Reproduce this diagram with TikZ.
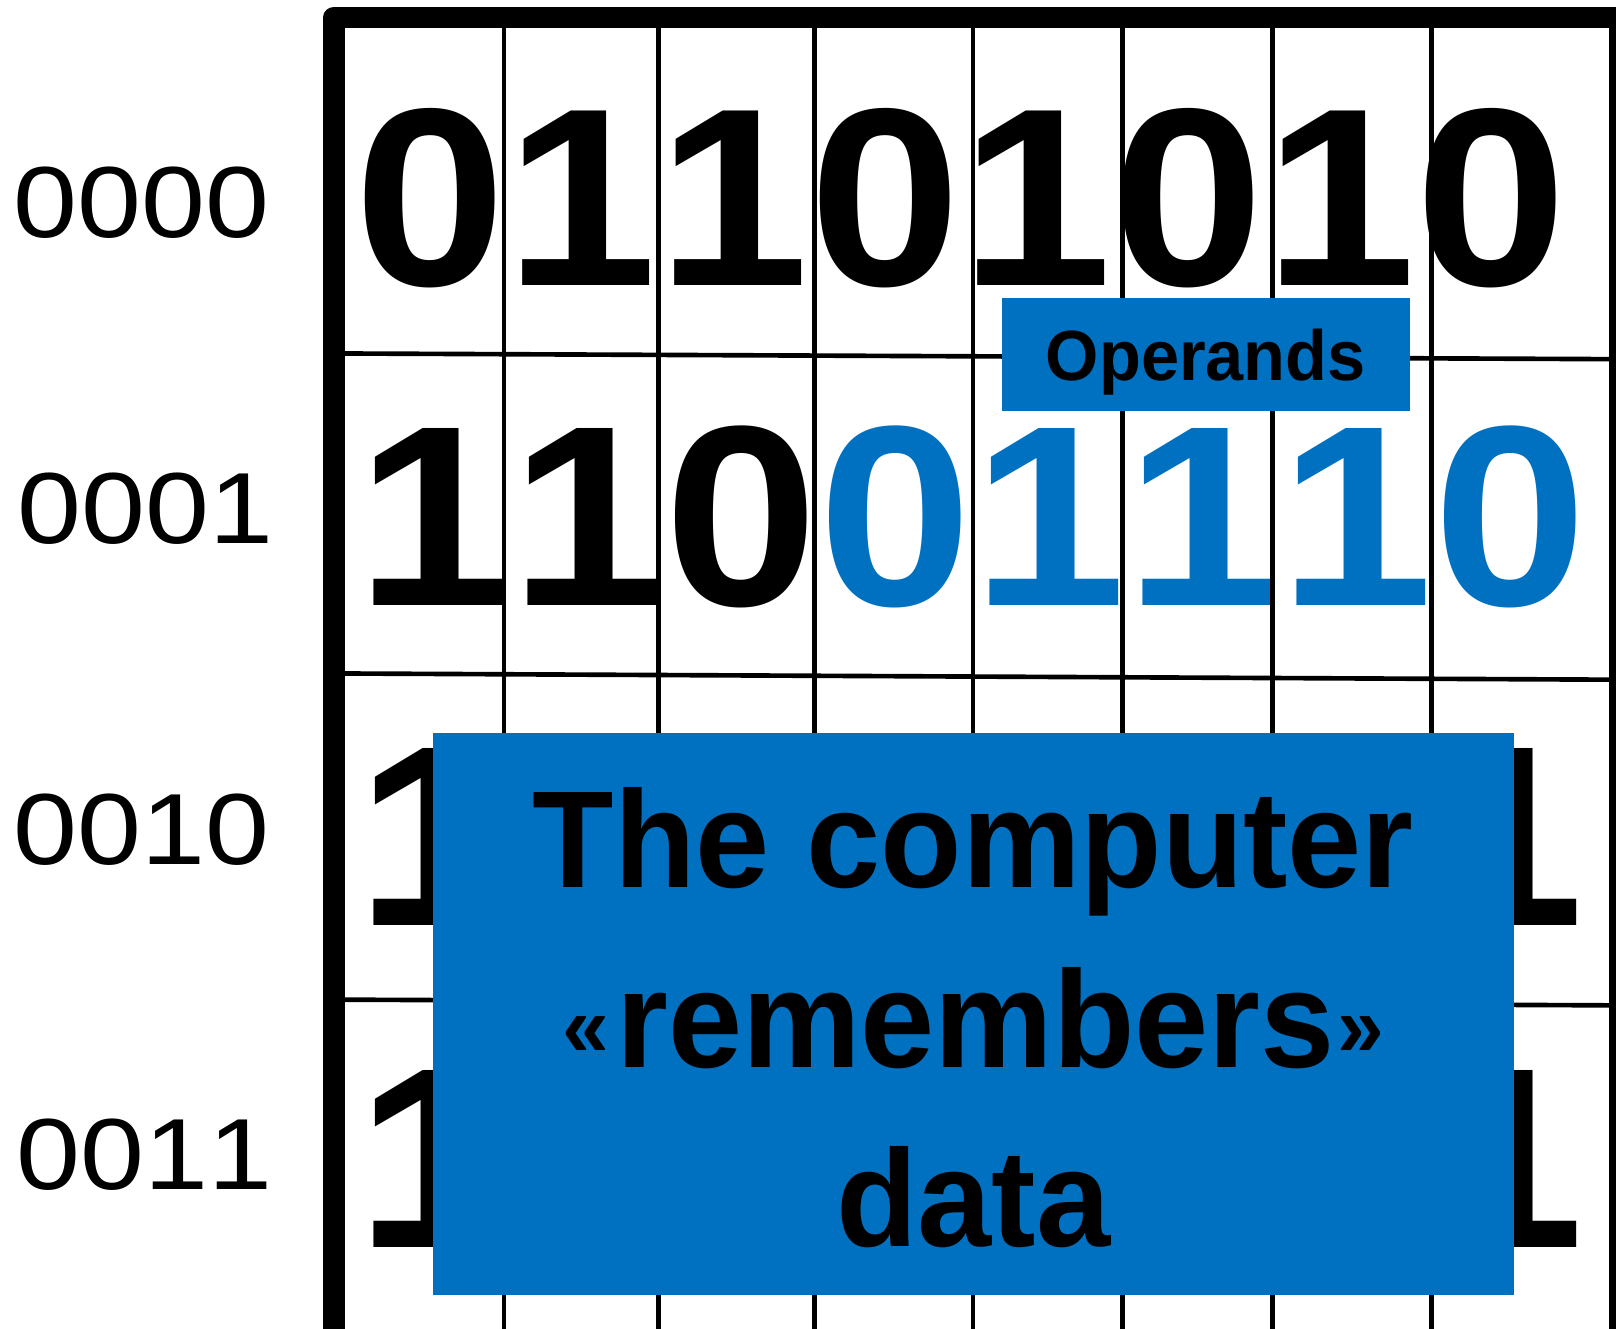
\documentclass[tikz,border=0pt]{standalone}
\usepackage{fontspec}
\setmainfont{Liberation Sans}
\newfontfamily\bitfont[FakeStretch=1.075, Kerning=Off]{Liberation Sans Bold}
\newfontfamily\addrfont[FakeStretch=1.137, Kerning=Off]{Liberation Sans}
\newfontfamily\notefont[FakeStretch=0.965]{Liberation Sans Bold}
\newcommand{\smallquote}[1]{{\fontsize{24}{24}\selectfont\raisebox{2.8pt}{#1}}}
\definecolor{opblue}{RGB}{0, 112, 192}

\begin{document}
\begin{tikzpicture}[
    x=0.01cm, y=-0.01cm,
    memframe/.style={
        line width=0.21cm, line join=round
    },
    cellline/.style={
        line width=0.045cm
    },
    bitrow/.style={
        anchor=base west, inner sep=0pt,
        font=\bitfont\fontsize{#1}{80}\selectfont
    },
    bitrow/.default=70,
    addrlabel/.style={
        anchor=base, inner sep=0pt,
        font=\addrfont\fontsize{27.9}{32}\selectfont
    },
    opbox/.style={
        rectangle, fill=opblue, inner sep=0pt,
        minimum width=3.96cm, minimum height=1.10cm,
        text height=14.2pt, text depth=0pt,
        font=\notefont\fontsize{19.6}{22}\selectfont
    },
    notebox/.style={
        rectangle, fill=opblue, inner sep=0pt,
        minimum width=10.49cm, minimum height=5.45cm
    },
    notetext/.style={
        inner sep=0pt, align=center,
        font=\notefont\fontsize{38.1}{49.5}\selectfont
    }
]

\useasboundingbox (0,0) rectangle (1568,1289);
\clip (0,0) rectangle (1568,1289);

% Memory contents
\node[bitrow] at (343, 277) (word0) {01101010};
\node[bitrow=71] at (345.5, 588) (word1) {110\textcolor{opblue}{01110}};
\node[bitrow=71] at (345, 898) (word2a) {1};
\node[bitrow=71] at (1387, 898) (word2b) {1};
\node[bitrow=71] at (345, 1210) (word3a) {1};
\node[bitrow=71] at (1387, 1210) (word3b) {1};

% Cells
\foreach \x in {489, 639, 790, 944, 1089, 1235, 1389}
    \draw[cellline] (\x, 17) -- (\x, 1300);
\foreach \ya/\yb in {343/348.5, 653.5/659.5, 970/975.5}
    \draw[cellline] (334, \ya) -- (1562, \yb);

% Border
\draw[memframe] (324, 1300) -- (324, 17) -- (1571.5, 17) -- (1571.5, 1300);

% Addresses
\node[addrlabel] at (137, 230) (addr0) {0000};
\node[addrlabel] at (141.5, 527) (addr1) {0001};
\node[addrlabel] at (137, 839) (addr2) {0010};
\node[addrlabel] at (140, 1154) (addr3) {0011};

% Callouts
\node[opbox] at (1170, 344) (operands) {Operands};
\node[notebox] at (944.5, 983.5) (remembers) {};
\node[notetext] at ([yshift=-0.04cm]remembers.center) (rememberstext)
    {The computer\\\smallquote{«}\kern0.07cm remembers\kern0.03cm\smallquote{»}\\data};

\end{tikzpicture}
\end{document}
